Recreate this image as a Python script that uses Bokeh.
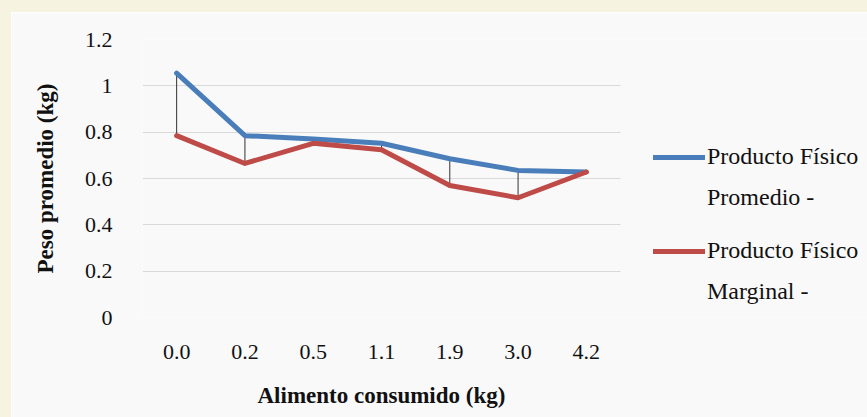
from bokeh.plotting import figure
from bokeh.models import (Range1d, FixedTicker, NumeralTickFormatter,
                          Legend, LegendItem, Title)
from bokeh.embed import file_html
from bokeh.resources import INLINE

# Feed consumed (kg) and the resulting average / marginal physical product (kg)
alimento = ["0.0", "0.2", "0.5", "1.1", "1.9", "3.0", "4.2"]
promedio = [1.055, 0.785, 0.770, 0.752, 0.685, 0.635, 0.628]
marginal = [0.785, 0.665, 0.752, 0.724, 0.570, 0.517, 0.628]
y_ticks = [0, 0.2, 0.4, 0.6, 0.8, 1.0, 1.2]

FONT = "Liberation Serif"
BLUE = "#4a7ebb"
RED = "#be4b48"
CREAM = "#f6f4e0"
PANEL = "#f9f9f9"

# categories sit at the centres of equal slots 0..7; the frame runs on to the
# right-hand edge so the legend can live inside it
n = len(alimento)
xpos = [i + 0.5 for i in range(n)]
slot_px = 478 / n
x_end = n + 258 / slot_px

p = figure(width=856, height=405, x_range=Range1d(0, x_end),
           y_range=Range1d(0, 1.2), output_backend="svg", toolbar_location=None,
           min_border_left=131, min_border_right=0, min_border_top=27,
           min_border_bottom=112)
# cream strip along the top and left edges of the page
p.styles = {"box-sizing": "content-box",
            "border-top": f"12px solid {CREAM}", "border-left": f"11px solid {CREAM}"}
p.border_fill_color = PANEL
p.background_fill_color = PANEL
p.outline_line_color = None

# axes
p.xgrid.grid_line_color = None
p.ygrid.grid_line_color = "#d9d9d9"
p.ygrid.grid_line_width = 1
p.ygrid.cross_bounds = (0, n)
p.yaxis.ticker = FixedTicker(ticks=y_ticks)
p.yaxis.formatter = NumeralTickFormatter(format="0.[0]")
p.xaxis.ticker = FixedTicker(ticks=xpos)
p.xaxis.bounds = (0, n)
p.xaxis.major_label_overrides = {x: lab for x, lab in zip(xpos, alimento)}
for ax in (p.xaxis[0], p.yaxis[0]):
    ax.axis_line_color = None
    ax.major_tick_line_color = None
    ax.minor_tick_line_color = None
    ax.major_label_text_font = FONT
    ax.major_label_text_font_size = "22px"
    ax.major_label_text_color = "#111111"
    ax.axis_label_text_font = FONT
    ax.axis_label_text_font_size = "23px"
    ax.axis_label_text_font_style = "bold"
    ax.axis_label_text_color = "#111111"
p.yaxis.axis_label = "Peso promedio (kg)"
p.xaxis.major_label_standoff = 21
p.yaxis.major_label_standoff = 24
p.yaxis.axis_label_standoff = 24

# x-axis title, centred under the category slots rather than the whole frame
p.add_layout(Title(text="Alimento consumido (kg)", align="left", offset=115,
                   standoff=38, text_font=FONT, text_font_size="23px",
                   text_font_style="bold", text_color="#111111"), "below")

# drop lines between the two series
p.segment(x0=xpos, y0=marginal, x1=xpos, y1=promedio,
          line_color="#333333", line_width=1)

r_prom = p.line(xpos, promedio, line_color=BLUE, line_width=5,
                line_join="round", line_cap="round")
r_marg = p.line(xpos, marginal, line_color=RED, line_width=5,
                line_join="round", line_cap="round")
# invisible twins carry the second line of each legend entry
r_prom_2 = p.line(xpos, promedio, line_alpha=0)
r_marg_2 = p.line(xpos, marginal, line_alpha=0)

legend_style = dict(orientation="vertical", border_line_color=None,
                    background_fill_alpha=0, padding=0, margin=0, spacing=14,
                    label_standoff=2, glyph_width=52, glyph_height=24,
                    label_height=24, label_text_font=FONT,
                    label_text_font_size="24px", label_text_color="#111111")
legend_prom = Legend(items=[LegendItem(label="Producto Físico", renderers=[r_prom]),
                            LegendItem(label="Promedio -", renderers=[r_prom_2])],
                     location=(511, 106), **legend_style)
legend_marg = Legend(items=[LegendItem(label="Producto Físico", renderers=[r_marg]),
                            LegendItem(label="Marginal -", renderers=[r_marg_2])],
                     location=(511, 12), **legend_style)
p.add_layout(legend_prom)
p.add_layout(legend_marg)

open("out.html", "w").write(file_html(p, INLINE))
